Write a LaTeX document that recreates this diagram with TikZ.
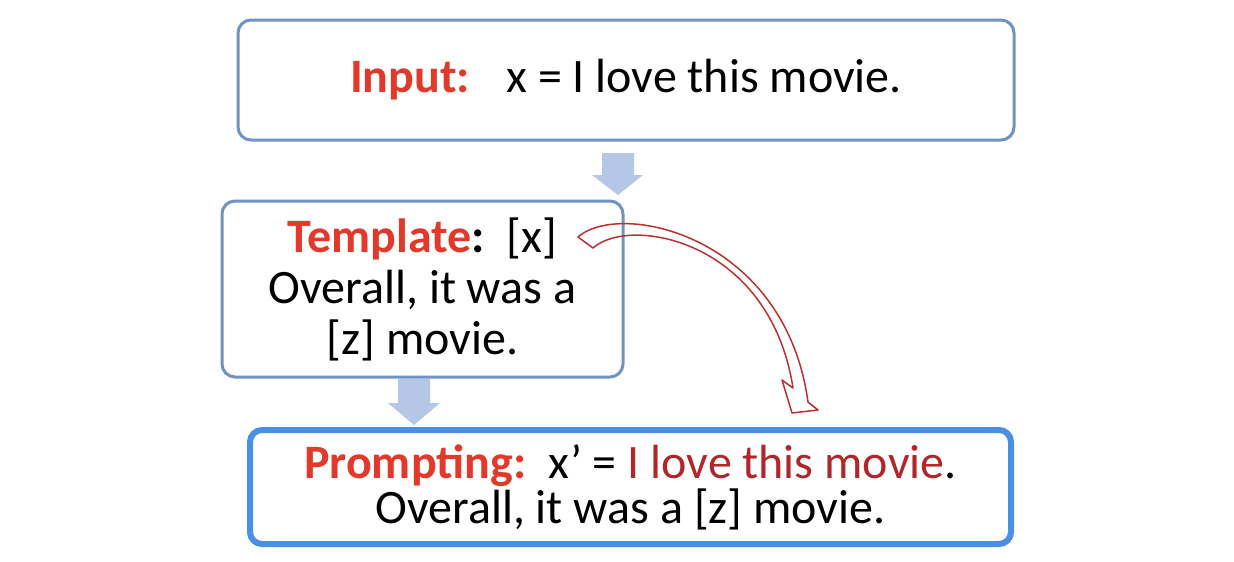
\documentclass[tikz,border=0pt]{standalone}
\usepackage{fontspec}
\setmainfont{Carlito}
\definecolor{boxblue}{HTML}{7093C3}
\definecolor{promptblue}{HTML}{4A90E2}
\definecolor{lblred}{HTML}{E2392B}
\definecolor{darkred}{HTML}{B0262A}
\definecolor{blockblue}{HTML}{B4C7E7}
\definecolor{curvered}{HTML}{B83232}
\tikzset{
  box/.style={draw=boxblue, line width=3pt, rounded corners=13pt, fill=white, align=center, inner sep=0pt},
  pbox/.style={draw=promptblue, line width=6pt, rounded corners=12pt, fill=white, align=center, inner sep=0pt},
  blockarrow/.style={fill=blockblue, draw=none},
  hollow/.style={draw=curvered, line width=1.5pt, line join=round}
}
\begin{document}
\begin{tikzpicture}[x=1pt,y=-1pt]
\useasboundingbox (0,0) rectangle (1234,562);
\fill[white] (0,0) rectangle (1234,562);

\node[box, minimum width=776pt, minimum height=120pt, font=\fontsize{48}{52}\selectfont] (input) at (626,80)
  {\textcolor{lblred}{\textbf{Input:}}\hspace{22pt} x = I love this movie.};

\node[box, minimum width=401pt, minimum height=176pt, font=\fontsize{48}{51}\selectfont] (template) at (422.5,289)
  {\textcolor{lblred}{\textbf{Template}}\textbf{:}\ \ [x]\\Overall, it was a\\{}[z] movie.};

\node[pbox, minimum width=761pt, minimum height=114pt, font=\fontsize{48}{45}\selectfont] (prompt) at (630.5,487)
  {\textcolor{lblred}{\textbf{Prompting:}}\ \ x’ = \textcolor{darkred}{I love this movie}.\\Overall, it was a [z] movie.};

% block arrow from input to template
\fill[blockarrow] (602,153) -- (634,153) -- (634,175) -- (643,175) -- (618,195) -- (592,175) -- (602,175) -- cycle;
% block arrow from template to prompt
\fill[blockarrow] (398,379) -- (430,379) -- (430,403) -- (440,403) -- (414,425) -- (388,403) -- (398,403) -- cycle;

% hollow curved arrow
\draw[hollow] (578,237) .. controls (620,200) and (785,235) .. (808,402)
  -- (818,410) -- (792,413) -- (782,380) -- (793,388)
  .. controls (770,240) and (630,215) .. (593,248) -- cycle;
\end{tikzpicture}
\end{document}
